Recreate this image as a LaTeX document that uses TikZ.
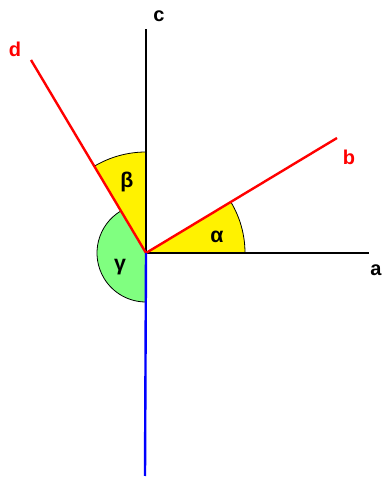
\documentclass[tikz,border=0pt]{standalone}
\usepackage{fontspec}
\setmainfont{Liberation Sans}
\definecolor{lgreen}{HTML}{80FF80}
\begin{document}
\begin{tikzpicture}[x=0.75pt,y=0.75pt,
  ray/.style={line width=1.8pt},
  arcline/.style={line width=0.6pt},
  lbl/.style={font=\fontsize{15}{17}\selectfont\bfseries, inner sep=0pt},
  glbl/.style={font=\fontsize{16}{18}\selectfont\bfseries, inner sep=0pt}]
\useasboundingbox (0,0) rectangle (382,478);
\coordinate (O) at (146,225);
\coordinate (A) at (369,225);
\coordinate (B) at (337,340);
\coordinate (C) at (146,449);
\coordinate (D) at (31,418);
\coordinate (E) at (145,2);
% sectors
\fill[yellow] (O) -- ++(0:99) arc[start angle=0,end angle=31,radius=99] -- cycle;
\draw[arcline] (O) ++(0:99) arc[start angle=0,end angle=31,radius=99];
\fill[yellow] (O) -- ++(90:101) arc[start angle=90,end angle=121,radius=101] -- cycle;
\draw[arcline] (O) ++(90:101) arc[start angle=90,end angle=121,radius=101];
\fill[lgreen] (O) -- ++(121:49) arc[start angle=121,end angle=270,radius=49] -- cycle;
\draw[arcline] (O) ++(121:49) arc[start angle=121,end angle=270,radius=49];
% rays
\draw[ray] (O) -- (A);
\draw[ray] (O) -- (C);
\draw[ray,red] (O) -- (B);
\draw[ray,red] (O) -- (D);
\draw[ray,blue] (O) -- (E);
% labels
\node[lbl] (la) at (376,208) {a};
\node[lbl,red] (lb) at (349,321) {b};
\node[lbl] (lc) at (159,462) {c};
\node[lbl,red] (ld) at (15,429) {d};
\node[glbl] (lal) at (217,241) {α};
\node[glbl] (lbe) at (127,296) {β};
\node[glbl] (lga) at (120,211) {γ};
\end{tikzpicture}
\end{document}
